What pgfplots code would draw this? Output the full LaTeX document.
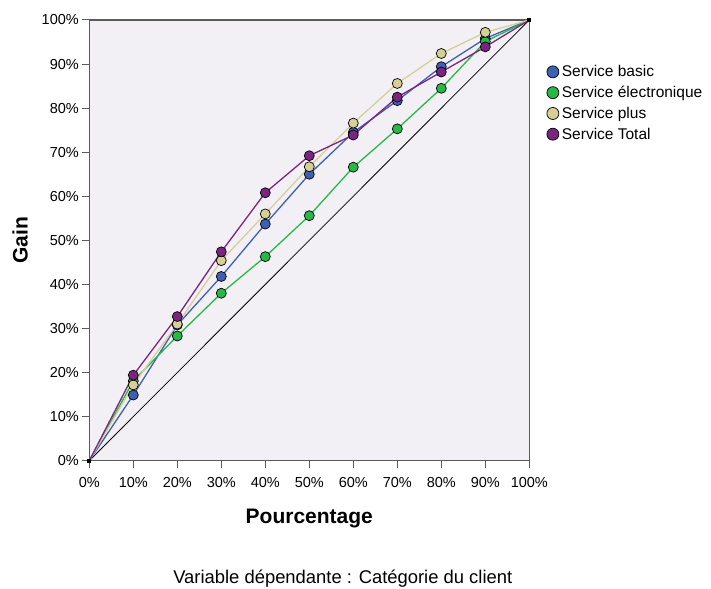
\documentclass[border=0pt]{standalone}
\usepackage{pgfplots}
\pgfplotsset{compat=1.18}
\usepackage{fontspec}
\setmainfont{Liberation Sans}

\definecolor{cBasic}{RGB}{62,96,180}
\definecolor{cElec}{RGB}{40,184,72}
\definecolor{cPlus}{RGB}{214,208,150}
\definecolor{cTotal}{RGB}{122,38,128}
\definecolor{cBack}{RGB}{242,240,245}
\definecolor{cFrame}{RGB}{90,90,90}

\begin{document}
\begin{tikzpicture}
\begin{axis}[
  at={(0,0)}, anchor=south west,
  scale only axis,
  width=440bp, height=440.7bp,
  xmin=0, xmax=100, ymin=0, ymax=100,
  xtick={0,10,...,100}, ytick={0,10,...,100},
  xticklabel={\pgfmathprintnumber{\tick}\%},
  yticklabel={\pgfmathprintnumber{\tick}\%},
  /pgf/number format/assume math mode=true,
  tick align=outside, major tick length=7bp,
  xtick pos=bottom, ytick pos=left,
  tick style={cFrame, line width=1bp},
  axis line style={cFrame, line width=1.2bp},
  axis background/.style={fill=cBack},
  ticklabel style={font=\fontsize{14.5bp}{17bp}\selectfont},
  xticklabel style={yshift=-6bp},
  xlabel={\textbf{Pourcentage}},
  ylabel={\textbf{Gain}},
  label style={font=\fontsize{21bp}{24bp}\selectfont},
  xlabel style={at={(axis description cs:0.5,-0.1436)}, anchor=base},
  ylabel style={at={(axis description cs:-0.1575,0.5)}, anchor=center},
  legend style={at={(axis description cs:1.0395,0.8995)}, anchor=north west,
    draw=none, fill=none, inner sep=0pt, row sep=6bp, column sep=2bp,
    font=\fontsize{15.5bp}{18bp}\selectfont,
    nodes={inner sep=1bp}},
  legend cell align=left,
  legend image code/.code={\draw[#1, mark size=6bp, mark indices={1}] plot[only marks] coordinates {(0.2cm,0cm)};},
  every axis plot/.append style={line width=1.3bp, mark=*, mark size=5bp, mark indices={2,3,...,10}},
]
\addplot[black, line width=0.8bp, mark=square*, mark size=1.5bp, mark indices={1,2}, forget plot]
  coordinates {(0,0) (100,100)};
\addplot[cBasic, mark options={fill=cBasic, draw=black, line width=0.7bp}] coordinates {
(0,0) (10,14.9) (20,30.8) (30,41.8) (40,53.7) (50,65.0) (60,74.5) (70,81.7) (80,89.4) (90,95.8) (100,100)};
\addplot[cElec, mark options={fill=cElec, draw=black, line width=0.7bp}] coordinates {
(0,0) (10,18.1) (20,28.3) (30,38.0) (40,46.3) (50,55.6) (60,66.6) (70,75.3) (80,84.5) (90,95.1) (100,100)};
\addplot[cPlus, mark options={fill=cPlus, draw=black, line width=0.7bp}] coordinates {
(0,0) (10,17.2) (20,31.0) (30,45.4) (40,56.0) (50,66.7) (60,76.6) (70,85.6) (80,92.4) (90,97.2) (100,100)};
\addplot[cTotal, mark options={fill=cTotal, draw=black, line width=0.7bp}] coordinates {
(0,0) (10,19.4) (20,32.7) (30,47.4) (40,60.8) (50,69.2) (60,73.9) (70,82.5) (80,88.2) (90,93.9) (100,100)};
\legend{Service basic, Service électronique, Service plus, Service Total}
\end{axis}
\node[anchor=base, font=\fontsize{18.4bp}{22bp}\selectfont] at (253.5bp,-123bp)
  {Variable dépendante : Catégorie du client};
\pgfresetboundingbox
\useasboundingbox (-89.3bp,-128.3bp) rectangle (621.7bp,460.7bp);
\end{tikzpicture}
\end{document}
